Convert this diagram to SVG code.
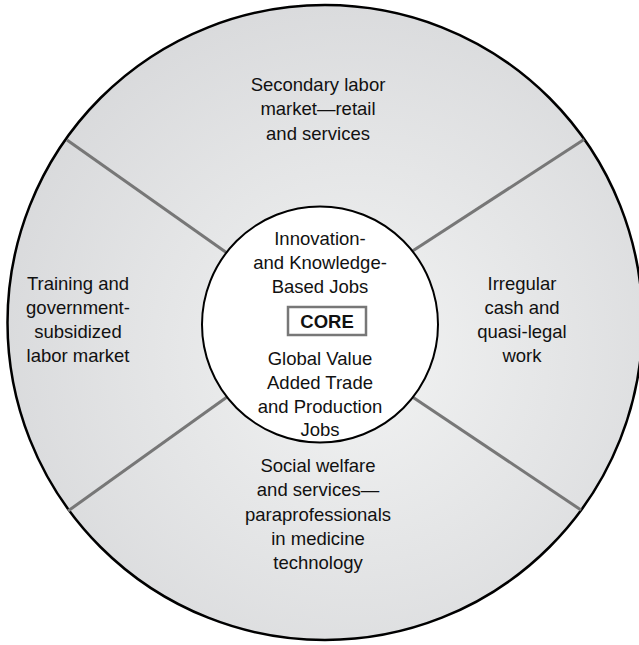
<svg xmlns="http://www.w3.org/2000/svg" width="639" height="645" viewBox="0 0 639 645">
<defs>
<radialGradient id="bg" cx="0.55" cy="0.55" r="0.6">
<stop offset="0" stop-color="#f2f3f3"/>
<stop offset="1" stop-color="#d8d9db"/>
</radialGradient>
<style>
.t{font-family:"Liberation Sans",Arial,sans-serif;font-size:18.5px;fill:#111;text-anchor:middle}
.b{font-weight:bold}
.div{stroke:#777;stroke-width:3;fill:none}
</style>
</defs>
<rect width="639" height="645" fill="#fff"/>
<g id="outer">
<circle cx="325" cy="322.5" r="317.5" fill="url(#bg)" stroke="#000" stroke-width="2.5"/>
</g>
<g id="connectors">
<line class="div" x1="67" y1="140" x2="227" y2="253"/>
<line class="div" x1="68" y1="511" x2="227" y2="397"/>
<line class="div" x1="584" y1="139.5" x2="411" y2="252"/>
<line class="div" x1="581" y1="510" x2="411" y2="396"/>
</g>
<g id="top">
<text class="t" x="318" y="91">Secondary labor</text>
<text class="t" x="318" y="115">market—retail</text>
<text class="t" x="318" y="140">and services</text>
</g>
<g id="left">
<text class="t" x="78" y="290">Training and</text>
<text class="t" x="78" y="314">government-</text>
<text class="t" x="78" y="338">subsidized</text>
<text class="t" x="78" y="362">labor market</text>
</g>
<g id="right">
<text class="t" x="522" y="290">Irregular</text>
<text class="t" x="522" y="314">cash and</text>
<text class="t" x="522" y="338">quasi-legal</text>
<text class="t" x="522" y="362">work</text>
</g>
<g id="bottom">
<text class="t" x="318" y="472">Social welfare</text>
<text class="t" x="318" y="496">and services—</text>
<text class="t" x="318" y="521">paraprofessionals</text>
<text class="t" x="318" y="545">in medicine</text>
<text class="t" x="318" y="569">technology</text>
</g>
<g id="core">
<circle cx="320" cy="324.5" r="118" fill="#fff" stroke="#000" stroke-width="2"/>
<text class="t" x="320" y="245">Innovation-</text>
<text class="t" x="320" y="269">and Knowledge-</text>
<text class="t" x="320" y="293">Based Jobs</text>
<rect x="288" y="307" width="78" height="28" fill="#fff" stroke="#777" stroke-width="2.5"/>
<text class="t b" x="327" y="328">CORE</text>
<text class="t" x="320" y="365">Global Value</text>
<text class="t" x="320" y="389">Added Trade</text>
<text class="t" x="320" y="413">and Production</text>
<text class="t" x="320" y="436">Jobs</text>
</g>
</svg>
